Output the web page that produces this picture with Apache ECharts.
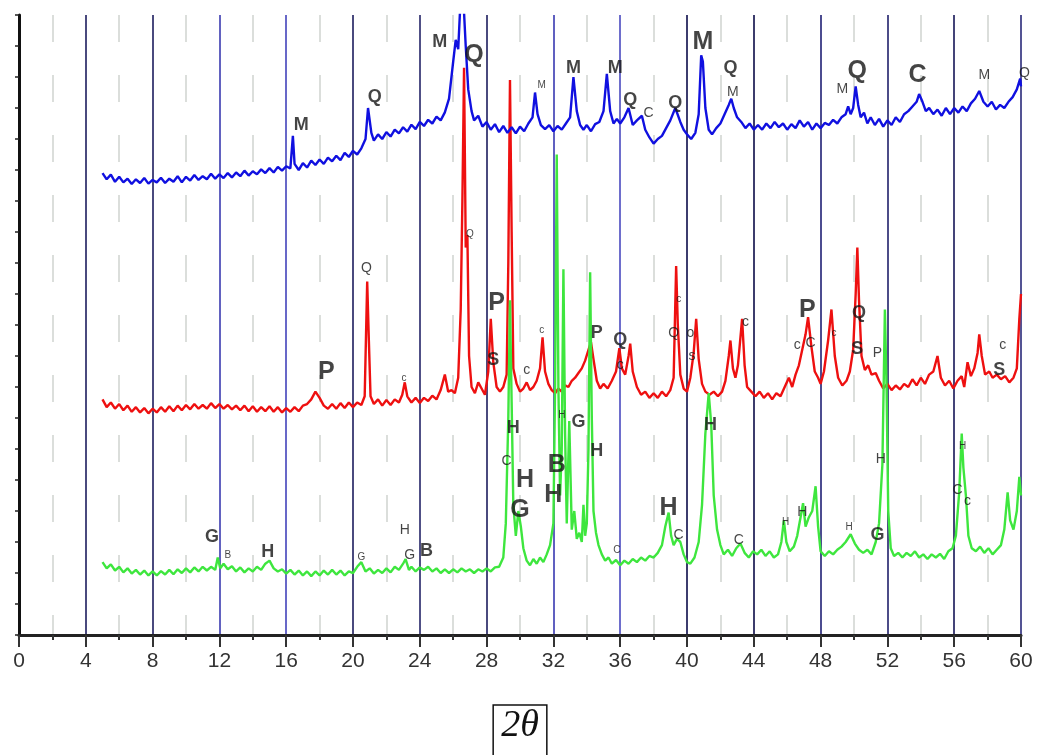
<!DOCTYPE html>
<html>
<head>
<meta charset="utf-8">
<title>XRD patterns</title>
<script src="https://cdn.jsdelivr.net/npm/echarts@6.0.0/dist/echarts.min.js"></script>
<style>
    html, body { margin: 0; padding: 0; background: #fff; }
    #chart { width: 1039px; height: 755px; }
</style>
</head>
<body>
<div id="chart"></div>
<script>
// 2theta ticks
var tickValues = [0, 4, 8, 12, 16, 20, 24, 28, 32, 36, 40, 44, 48, 52, 56, 60];

// top pattern (blue), [2theta, intensity offset]
var blueScan = [[5,14.9],[5.25,14.7],[5.5,14.85],[5.75,14.62],[6,14.78],[6.25,14.6],[6.5,14.72],[6.75,14.55],[7,14.7],[7.25,14.58],[7.5,14.74],[7.75,14.56],[8,14.68],[8.25,14.6],[8.5,14.75],[8.75,14.58],[9,14.72],[9.25,14.62],[9.5,14.8],[9.75,14.6],[10,14.78],[10.25,14.66],[10.5,14.84],[10.75,14.68],[11,14.8],[11.25,14.7],[11.5,14.88],[11.75,14.72],[12,14.86],[12.25,14.74],[12.5,14.9],[12.75,14.76],[13,14.92],[13.25,14.8],[13.5,14.98],[13.75,14.82],[14,14.96],[14.25,14.86],[14.5,15.02],[14.75,14.9],[15,15.06],[15.25,14.92],[15.5,15.1],[15.75,14.98],[16,15.12],[16.25,15.05],[16.4,16.1],[16.5,15.2],[16.75,15.0],[17,15.22],[17.25,15.08],[17.5,15.3],[17.75,15.16],[18,15.34],[18.25,15.2],[18.5,15.4],[18.75,15.28],[19,15.46],[19.25,15.32],[19.5,15.55],[19.75,15.42],[20,15.62],[20.25,15.5],[20.5,15.7],[20.75,16.0],[20.9,17.0],[21.1,16.2],[21.25,15.95],[21.5,16.15],[21.75,16.0],[22,16.22],[22.25,16.08],[22.5,16.3],[22.75,16.18],[23,16.38],[23.25,16.24],[23.5,16.46],[23.75,16.32],[24,16.55],[24.25,16.42],[24.5,16.62],[24.75,16.5],[25,16.72],[25.25,16.6],[25.5,16.86],[25.75,17.3],[26,18.5],[26.15,19.2],[26.3,18.9],[26.45,20.6],[26.6,20.6],[26.75,19.0],[26.9,17.6],[27.1,16.9],[27.25,16.6],[27.5,16.75],[27.75,16.4],[28,16.55],[28.25,16.3],[28.5,16.48],[28.75,16.22],[29,16.42],[29.25,16.2],[29.5,16.38],[29.75,16.18],[30,16.4],[30.25,16.25],[30.5,16.5],[30.75,16.7],[30.9,17.5],[31.05,16.8],[31.25,16.45],[31.5,16.32],[31.75,16.45],[32,16.25],[32.25,16.42],[32.5,16.3],[32.75,16.5],[33,16.7],[33.2,18.0],[33.4,16.9],[33.6,16.45],[33.8,16.3],[34,16.45],[34.25,16.25],[34.5,16.48],[34.75,16.55],[35,16.9],[35.2,18.1],[35.4,16.9],[35.6,16.5],[35.8,16.65],[36,16.5],[36.25,16.7],[36.5,17.0],[36.75,16.45],[37,16.6],[37.3,16.75],[37.5,16.3],[37.75,16.05],[38,15.85],[38.25,16.0],[38.5,16.1],[38.75,16.35],[39,16.6],[39.3,17.0],[39.6,16.55],[39.8,16.3],[40,16.15],[40.25,16.0],[40.5,16.2],[40.7,16.8],[40.85,18.7],[40.95,18.5],[41.1,17.0],[41.3,16.3],[41.5,16.15],[41.75,16.35],[42,16.5],[42.25,16.8],[42.5,17.1],[42.65,17.3],[42.8,17.0],[43,16.7],[43.25,16.55],[43.5,16.35],[43.75,16.5],[44,16.3],[44.25,16.45],[44.5,16.3],[44.75,16.5],[45,16.35],[45.25,16.55],[45.5,16.38],[45.75,16.5],[46,16.3],[46.25,16.48],[46.5,16.35],[46.75,16.6],[47,16.4],[47.25,16.55],[47.5,16.3],[47.75,16.5],[48,16.35],[48.25,16.52],[48.5,16.45],[48.75,16.62],[49,16.5],[49.25,16.7],[49.5,16.8],[49.65,17.05],[49.8,16.8],[49.95,17.0],[50.1,17.7],[50.25,17.1],[50.4,16.7],[50.6,16.85],[50.8,16.5],[51,16.7],[51.25,16.45],[51.5,16.65],[51.75,16.4],[52,16.6],[52.25,16.45],[52.5,16.7],[52.75,16.55],[53,16.8],[53.25,16.9],[53.5,17.05],[53.75,17.2],[53.9,17.45],[54.1,17.2],[54.3,16.9],[54.5,17.0],[54.75,16.8],[55,16.95],[55.25,16.75],[55.5,17.0],[55.75,16.8],[56,17.0],[56.25,16.85],[56.5,17.05],[56.75,16.9],[57,17.15],[57.25,17.3],[57.5,17.55],[57.75,17.2],[58,17.05],[58.25,17.2],[58.5,16.95],[58.75,17.1],[59,17.0],[59.25,17.2],[59.5,17.35],[59.75,17.6],[59.95,17.95],[60,17.7]];

// middle pattern (red)
var redScan = [[5,7.6],[5.25,7.35],[5.5,7.5],[5.75,7.3],[6,7.45],[6.25,7.25],[6.5,7.4],[6.75,7.2],[7,7.35],[7.25,7.18],[7.5,7.32],[7.75,7.15],[8,7.3],[8.25,7.18],[8.5,7.35],[8.75,7.2],[9,7.38],[9.25,7.22],[9.5,7.4],[9.75,7.25],[10,7.42],[10.25,7.28],[10.5,7.45],[10.75,7.3],[11,7.42],[11.25,7.3],[11.5,7.48],[11.75,7.32],[12,7.45],[12.25,7.3],[12.5,7.42],[12.75,7.28],[13,7.4],[13.25,7.25],[13.5,7.4],[13.75,7.22],[14,7.38],[14.25,7.2],[14.5,7.35],[14.75,7.22],[15,7.38],[15.25,7.2],[15.5,7.35],[15.75,7.18],[16,7.32],[16.25,7.2],[16.5,7.35],[16.75,7.22],[17,7.4],[17.25,7.45],[17.5,7.6],[17.75,7.85],[18,7.65],[18.25,7.4],[18.5,7.3],[18.75,7.45],[19,7.3],[19.25,7.48],[19.5,7.32],[19.75,7.5],[20,7.35],[20.25,7.5],[20.5,7.42],[20.7,7.7],[20.85,11.4],[20.95,9.5],[21.05,7.7],[21.25,7.45],[21.5,7.6],[21.75,7.4],[22,7.58],[22.25,7.42],[22.5,7.6],[22.75,7.5],[22.95,7.75],[23.1,8.15],[23.25,7.7],[23.5,7.5],[23.75,7.65],[24,7.48],[24.25,7.65],[24.5,7.55],[24.75,7.72],[25,7.6],[25.25,7.9],[25.5,8.4],[25.7,7.85],[25.9,7.9],[26.1,7.8],[26.3,8.3],[26.45,10.5],[26.55,14.0],[26.65,18.3],[26.75,12.5],[26.85,12.9],[26.95,9.0],[27.1,8.0],[27.3,7.8],[27.5,8.15],[27.7,7.95],[27.9,7.75],[28.1,8.5],[28.25,10.2],[28.4,8.8],[28.6,8.0],[28.8,7.85],[29,8.0],[29.2,8.4],[29.3,12.0],[29.4,17.9],[29.5,13.0],[29.6,8.6],[29.8,8.1],[30,7.85],[30.2,7.95],[30.4,8.15],[30.6,7.9],[30.8,8.0],[31,8.2],[31.2,8.6],[31.35,9.6],[31.5,8.5],[31.7,8.1],[31.9,7.9],[32.1,7.8],[32.3,7.95],[32.5,7.85],[32.7,8.05],[32.9,8.0],[33.1,8.2],[33.3,8.3],[33.5,8.45],[33.7,8.6],[33.9,8.85],[34.1,9.2],[34.25,9.45],[34.4,8.9],[34.6,8.2],[34.8,7.95],[35,8.1],[35.25,7.95],[35.5,8.2],[35.75,8.5],[35.95,9.25],[36.1,8.6],[36.3,8.4],[36.5,9.0],[36.6,9.4],[36.75,8.5],[37,8.0],[37.25,7.75],[37.5,7.85],[37.75,7.65],[38,7.8],[38.25,7.65],[38.5,7.85],[38.75,7.7],[39,7.9],[39.2,8.3],[39.35,11.9],[39.45,10.0],[39.6,8.4],[39.8,7.95],[40,7.85],[40.2,8.3],[40.4,9.1],[40.55,10.2],[40.7,8.9],[40.9,8.1],[41.1,7.85],[41.35,7.75],[41.6,7.85],[41.85,7.7],[42.1,7.85],[42.3,8.2],[42.5,9.0],[42.6,9.5],[42.75,8.6],[42.9,8.3],[43.05,8.7],[43.3,10.2],[43.45,8.7],[43.6,8.0],[43.85,7.85],[44.1,7.7],[44.35,7.85],[44.6,7.65],[44.85,7.8],[45.1,7.6],[45.35,7.8],[45.6,7.7],[45.85,8.0],[46.1,8.3],[46.3,8.0],[46.5,8.4],[46.7,8.7],[46.9,9.2],[47.1,9.7],[47.25,10.25],[47.45,9.3],[47.65,8.5],[47.85,8.3],[48.0,8.1],[48.2,8.5],[48.45,9.5],[48.65,10.5],[48.85,9.0],[49.05,8.3],[49.3,8.05],[49.55,8.2],[49.75,8.5],[49.95,9.2],[50.1,11.0],[50.2,12.5],[50.3,10.8],[50.45,9.0],[50.65,8.55],[50.85,8.7],[51.05,8.4],[51.3,8.45],[51.5,8.2],[51.75,7.95],[52,8.1],[52.25,7.9],[52.5,8.05],[52.75,7.92],[53,8.1],[53.25,8.0],[53.5,8.25],[53.75,8.05],[54,8.3],[54.25,8.1],[54.5,8.4],[54.75,8.5],[55,9.0],[55.2,8.3],[55.45,8.05],[55.7,8.2],[55.95,7.95],[56.2,8.2],[56.45,8.35],[56.6,8.0],[56.8,8.8],[57,8.35],[57.2,8.6],[57.4,9.1],[57.5,9.7],[57.65,9.0],[57.85,8.4],[58.1,8.5],[58.3,8.3],[58.55,8.4],[58.8,8.25],[59.05,8.35],[59.3,8.15],[59.55,8.3],[59.75,8.6],[59.9,10.2],[60,11.0]];

// bottom pattern (green)
var greenScan = [[5,2.35],[5.25,2.15],[5.5,2.28],[5.75,2.08],[6,2.2],[6.25,2.02],[6.5,2.15],[6.75,1.98],[7,2.1],[7.25,1.95],[7.5,2.08],[7.75,1.92],[8,2.05],[8.25,1.92],[8.5,2.06],[8.75,1.95],[9,2.1],[9.25,1.96],[9.5,2.12],[9.75,2.0],[10,2.15],[10.25,2.02],[10.5,2.18],[10.75,2.05],[11,2.2],[11.25,2.08],[11.5,2.2],[11.75,2.1],[11.9,2.5],[12.05,2.15],[12.25,2.3],[12.5,2.12],[12.75,2.22],[13,2.05],[13.25,2.18],[13.5,2.02],[13.75,2.15],[14,2.05],[14.25,2.2],[14.5,2.1],[14.75,2.3],[15,2.4],[15.25,2.15],[15.5,2.05],[15.75,2.12],[16,1.98],[16.25,2.1],[16.5,1.95],[16.75,2.08],[17,1.92],[17.25,2.05],[17.5,1.9],[17.75,2.05],[18,1.92],[18.25,2.08],[18.5,1.95],[18.75,2.1],[19,1.95],[19.25,2.08],[19.5,1.92],[19.75,2.05],[20,2.0],[20.25,2.2],[20.5,2.35],[20.75,2.05],[21,2.15],[21.25,1.98],[21.5,2.1],[21.75,2.0],[22,2.15],[22.25,2.02],[22.5,2.2],[22.75,2.1],[23,2.3],[23.15,2.45],[23.35,2.1],[23.5,2.2],[23.75,2.05],[24,2.18],[24.25,2.1],[24.5,2.2],[24.75,2.05],[25,2.15],[25.25,2.0],[25.5,2.12],[25.75,2.0],[26,2.12],[26.25,2.02],[26.5,2.15],[26.75,2.05],[27,2.12],[27.25,2.0],[27.5,2.12],[27.75,2.05],[28,2.15],[28.25,2.05],[28.5,2.18],[28.75,2.2],[29,2.5],[29.15,3.6],[29.3,7.0],[29.4,10.8],[29.5,7.5],[29.6,4.2],[29.75,3.2],[29.9,4.0],[30.05,3.5],[30.2,2.8],[30.4,2.4],[30.6,2.25],[30.8,2.45],[31,2.3],[31.2,2.5],[31.4,2.35],[31.6,2.6],[31.8,2.9],[32,3.6],[32.1,8.0],[32.2,15.5],[32.3,8.0],[32.4,4.5],[32.5,6.0],[32.6,11.8],[32.7,6.5],[32.8,3.6],[32.95,6.9],[33.1,3.4],[33.25,4.0],[33.4,3.1],[33.55,3.3],[33.7,3.0],[33.8,4.2],[33.9,3.2],[34.0,3.6],[34.1,6.0],[34.2,11.7],[34.3,7.0],[34.4,4.0],[34.55,3.3],[34.7,2.9],[34.9,2.6],[35.1,2.4],[35.3,2.5],[35.5,2.3],[35.75,2.42],[36,2.25],[36.25,2.4],[36.5,2.3],[36.75,2.45],[37,2.35],[37.25,2.5],[37.5,2.4],[37.75,2.55],[38,2.5],[38.25,2.65],[38.5,2.9],[38.7,3.5],[38.9,3.95],[39.05,3.2],[39.2,2.9],[39.4,3.1],[39.6,3.0],[39.8,2.6],[40,2.35],[40.2,2.3],[40.45,2.5],[40.7,3.0],[40.9,4.2],[41.1,6.5],[41.3,7.8],[41.45,6.8],[41.6,4.5],[41.8,3.4],[42,2.9],[42.2,2.6],[42.45,2.75],[42.7,2.55],[42.95,2.8],[43.2,2.95],[43.45,2.65],[43.7,2.5],[43.95,2.7],[44.2,2.6],[44.45,2.75],[44.7,2.55],[44.95,2.7],[45.2,2.5],[45.45,2.6],[45.65,3.0],[45.8,3.7],[45.95,3.0],[46.15,2.7],[46.4,2.85],[46.6,3.2],[46.8,3.8],[46.95,4.25],[47.1,3.5],[47.3,3.8],[47.5,4.0],[47.7,4.8],[47.85,3.5],[48.0,2.7],[48.25,2.55],[48.5,2.7],[48.75,2.6],[49,2.75],[49.25,2.85],[49.5,3.0],[49.8,3.25],[50.05,2.95],[50.3,2.75],[50.55,2.65],[50.8,2.75],[51.05,2.6],[51.3,3.0],[51.5,3.6],[51.7,5.5],[51.85,10.5],[51.95,8.0],[52.05,4.0],[52.2,2.8],[52.4,2.55],[52.65,2.65],[52.9,2.5],[53.15,2.65],[53.4,2.55],[53.65,2.7],[53.9,2.5],[54.15,2.6],[54.4,2.45],[54.65,2.6],[54.9,2.5],[55.15,2.62],[55.4,2.45],[55.65,2.7],[55.9,2.8],[56.1,3.2],[56.3,4.6],[56.45,6.5],[56.55,5.4],[56.7,4.5],[56.85,3.2],[57.05,2.8],[57.3,2.7],[57.55,2.85],[57.8,2.65],[58.05,2.8],[58.3,2.6],[58.55,2.75],[58.8,2.9],[59.0,3.4],[59.2,4.6],[59.35,3.7],[59.55,3.4],[59.75,4.0],[59.9,5.1],[60,4.5]];

// phase letters: [2theta, level, letter, size class]
var blueTags = [
    [16.9,16.45,'M','mid'],[21.3,17.35,'Q','mid'],[25.2,19.13,'M','mid'],[27.25,18.7,'Q','big'],
    [31.3,17.74,'M','tiny'],[33.2,18.3,'M','mid'],[35.7,18.3,'M','mid'],[36.6,17.26,'Q','mid'],
    [37.7,16.84,'C','small'],[39.3,17.16,'Q','mid'],[40.96,19.13,'M','big'],[42.6,18.3,'Q','mid'],
    [42.75,17.5,'M','small'],[49.3,17.6,'M','small'],[50.2,18.2,'Q','big'],[53.8,18.06,'C','big'],
    [57.8,18.06,'M','small'],[60.2,18.13,'Q','small']
];
var redTags = [
    [18.4,8.48,'P','big'],[20.8,11.84,'Q','small'],[23.05,8.29,'c','tiny'],[27.0,12.94,'Q','tiny'],
    [28.6,10.7,'P','big'],[28.4,8.87,'S','mid'],[30.4,8.55,'c','small'],[31.3,9.84,'c','tiny'],
    [34.6,9.74,'P','mid'],[36.0,9.5,'Q','mid'],[36.0,8.7,'c','small'],[39.5,10.84,'c','tiny'],
    [39.2,9.74,'Q','small'],[40.2,9.74,'o','small'],[40.3,9.0,'s','small'],[43.5,10.1,'c','small'],
    [47.2,10.48,'P','big'],[46.6,9.35,'c','small'],[47.4,9.42,'C','small'],[48.8,9.74,'c','tiny'],
    [50.3,10.39,'Q','mid'],[50.2,9.23,'S','mid'],[51.4,9.1,'P','small'],[58.9,9.35,'c','small'],
    [58.7,8.55,'S','mid']
];
var greenTags = [
    [11.56,3.16,'G','mid'],[12.5,2.58,'B','tiny'],[14.9,2.68,'H','mid'],[20.5,2.52,'G','tiny'],
    [23.1,3.39,'H','small'],[23.4,2.58,'G','small'],[24.4,2.71,'B','mid'],[29.6,6.68,'H','mid'],
    [29.2,5.6,'C','small'],[30.3,5.0,'H','big'],[30.0,4.03,'G','big'],[32.2,5.48,'B','big'],
    [32.0,4.5,'H','big'],[32.5,7.1,'H','tiny'],[33.5,6.87,'G','mid'],[34.6,5.94,'H','mid'],
    [35.8,2.74,'C','tiny'],[38.9,4.1,'H','big'],[39.5,3.23,'C','small'],[41.4,6.77,'H','mid'],
    [43.1,3.06,'C','small'],[45.9,3.65,'H','tiny'],[46.9,3.97,'H','small'],[49.7,3.48,'H','tiny'],
    [51.4,3.23,'G','mid'],[51.6,5.68,'H','small'],[56.5,6.1,'H','tiny'],[56.2,4.68,'C','small'],
    [56.8,4.32,'c','small']
];

var tagStyle = {
    big:   { size: 25, weight: 'bold' },
    mid:   { size: 18, weight: 'bold' },
    small: { size: 14, weight: 'normal' },
    tiny:  { size: 10, weight: 'normal' }
};

// colours of the solid guide lines at 0,4,...,60
var guideColors = ['#222', '#4a4a7e', '#4a4a7e', '#6262c0', '#6868c8', '#4a4a7e', '#505086', '#4a4a7e',
    '#6060c0', '#6e6ecc', '#3c3c6e', '#3c3c6c', '#4c4c90', '#4c4c88', '#444478', '#545494'];

function scanSeries(data, color) {
    return {
        type: 'line',
        data: data,
        symbol: 'none',
        silent: true,
        lineStyle: { color: color, width: 2.4 }
    };
}

function tagSeries(list) {
    return {
        type: 'scatter',
        symbolSize: 1,
        clip: false,
        silent: true,
        z: 5,
        itemStyle: { color: 'transparent' },
        label: {
            show: true,
            position: 'inside',
            formatter: '{b}',
            color: '#151515',
            fontFamily: 'Liberation Sans'
        },
        data: list.map(function (t) {
            var s = tagStyle[t[3]];
            return { name: t[2], value: [t[0], t[1]], label: { fontSize: s.size, fontWeight: s.weight } };
        })
    };
}

function initChart(domId) {
    var myChart = echarts.init(document.getElementById(domId));
    var option = {
        animation: false,
        backgroundColor: '#fff',
        grid: { left: 19, right: 18, top: 15, bottom: 120, outerBoundsMode: 'none' },
        xAxis: {
            type: 'value',
            min: tickValues[0],
            max: tickValues[tickValues.length - 1],
            interval: 4,
            name: '2θ',
            nameLocation: 'middle',
            nameGap: 70,
            nameTextStyle: {
                fontFamily: 'Liberation Serif',
                fontStyle: 'italic',
                fontSize: 38,
                color: '#111',
                borderColor: '#111',
                borderWidth: 1.5,
                padding: [2, 8, 12, 8]
            },
            axisLine: { lineStyle: { color: '#222', width: 3 } },
            axisTick: { length: 12, lineStyle: { color: '#333', width: 2 } },
            minorTick: { show: true, splitNumber: 2, length: 5, lineStyle: { color: '#333', width: 2 } },
            axisLabel: { fontSize: 21, color: '#333', margin: 16, fontFamily: 'Liberation Sans' },
            splitLine: { show: true, lineStyle: { color: guideColors, width: 2 } },
            minorSplitLine: { show: true, lineStyle: { color: '#d0d4d0', width: 1.5, type: [27, 33] } }
        },
        yAxis: {
            type: 'value',
            min: 0,
            max: 20,
            interval: 1,
            axisLine: { show: true, lineStyle: { color: '#111', width: 3 } },
            axisTick: { show: true, length: 4, lineStyle: { color: '#222', width: 1.5 } },
            axisLabel: { show: false },
            splitLine: { show: false }
        },
        series: [
            scanSeries(redScan, '#ee1010'),
            scanSeries(blueScan, '#1010e0'),
            scanSeries(greenScan, '#3ee63e'),
            tagSeries(blueTags),
            tagSeries(redTags),
            tagSeries(greenTags)
        ]
    };
    myChart.setOption(option);
}

initChart('chart');
</script>
</body>
</html>
